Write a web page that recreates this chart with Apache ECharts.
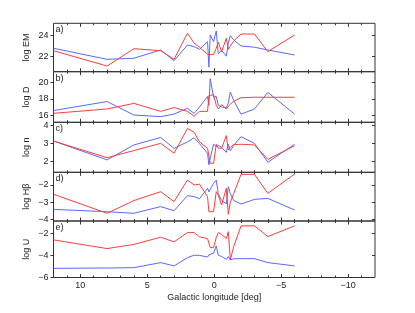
<!DOCTYPE html>
<html><head><meta charset="utf-8">
<script src="https://cdn.jsdelivr.net/npm/echarts@6/dist/echarts.min.js"></script>
<style>html,body{margin:0;padding:0;background:#fff}#c{width:415px;height:313px}</style>
</head><body><div id="c"></div>
<script>
// Galactic longitude [deg]
const longitude = [12, 8, 6, 4, 3, 2, 1.5, 1.1, 0.5, 0.4, 0.3, 0.05, -0.15, -0.3, -0.55, -0.9, -1.05, -1.2, -1.45, -2, -3, -4, -6];
// a) log EM
const emRed  = [22.57, 21.11, 22.76, 22.57, 21.75, 24.23, 23.28, 22.9, 22.23, 22.2, 22.2, 22.23, 22.8, 23.37, 22.48, 23.75, 22.7, 23.0, 23.5, 24.16, 24.16, 22.48, 24.07];
const emBlue = [22.8, 21.75, 21.85, 22.64, 21.62, 23.11, 22.95, 22.7, 23.43, 21.0, 24.07, 23.43, 24.45, 22.3, 22.6, 22.05, 23.3, 24.0, 23.6, 23.02, 22.9, 22.64, 22.16];
// b) log D
const dRed  = [16.21, 16.75, 17.44, 16.45, 16.93, 16.45, 15.86, 16.45, 16.45, 18.4, 18.5, 18.5, 17.2, 16.75, 17.3, 16.75, 17.1, 17.34, 17.7, 18.14, 18.2, 18.2, 18.2];
const dBlue = [16.55, 17.67, 16.0, 15.8, 16.12, 16.84, 16.2, 17.0, 18.3, 17.2, 20.5, 18.2, 18.3, 17.2, 17.0, 16.9, 17.5, 18.85, 17.8, 16.1, 16.75, 18.8, 16.1];
// c) log n
const nRed  = [3.15, 2.22, 2.62, 3.02, 2.47, 3.85, 3.63, 3.1, 2.74, 2.85, 1.91, 1.91, 2.97, 2.75, 2.75, 3.45, 2.65, 2.8, 2.95, 2.97, 2.93, 2.13, 2.89];
const nBlue = [3.15, 2.1, 2.93, 3.35, 2.74, 3.1, 3.33, 3.0, 2.47, 1.82, 2.2, 2.97, 2.85, 2.9, 2.8, 2.52, 2.97, 2.6, 2.9, 3.39, 3.02, 1.97, 2.97];
// d) log Hbeta
const hbRed  = [-2.54, -3.65, -2.91, -2.39, -2.97, -1.71, -2.0, -1.95, -2.68, -3.56, -3.56, -3.56, -2.39, -2.6, -3.17, -2.19, -3.71, -3.0, -2.5, -1.38, -1.38, -2.49, -1.36];
const hbBlue = [-3.42, -3.56, -3.65, -3.26, -3.5, -2.62, -2.68, -2.8, -2.19, -2.4, -2.5, -1.9, -1.71, -2.5, -2.9, -3.1, -2.1, -2.5, -2.9, -3.11, -2.84, -2.78, -3.46];
// e) log U
const uRed  = [-2.59, -3.38, -3.0, -2.35, -2.77, -1.93, -1.93, -2.32, -2.47, -2.38, -3.29, -3.29, -2.38, -1.93, -2.1, -2.47, -1.85, -4.41, -3.2, -1.32, -1.32, -2.29, -1.32];
const uBlue = [-5.17, -5.14, -5.11, -4.65, -4.95, -4.2, -3.98, -4.0, -4.14, -3.95, -3.9, -3.8, -3.14, -3.98, -4.1, -4.35, -4.1, -4.41, -4.3, -4.29, -4.29, -4.65, -4.95];

const panelLabels = ['a)', 'b)', 'c)', 'd)', 'e)'];
const yNames = ['log EM', 'log D', 'log n', 'log H\u03b2', 'log U'];
const yTickValues = [[22, 24], [16, 18, 20], [2, 3, 4], [-4, -3, -2], [-6, -4, -2]];
const xMajorTicks = [10, 5, 0, -5, -10];
const xMinorTicks = [11, 9, 8, 7, 6, 4, 3, 2, 1, -1, -2, -3, -4, -6, -7, -8, -9, -11];
const xTitle = 'Galactic longitude [deg]';

const redSeries = [emRed, dRed, nRed, hbRed, uRed];
const blueSeries = [emBlue, dBlue, nBlue, hbBlue, uBlue];

// layout
const panelTop = [23.3, 71.7, 122.3, 172.3, 221];
const panelBottom = [71.7, 122.3, 172.3, 221, 277.5];
const yRange = [[20.57, 25.18], [15.1, 21.36], [1.41, 4.19], [-4.1, -1.26], [-6, -0.88]];
const LEFT = 53.5, RIGHT = 375;
const RED = '#ff3c3c', BLUE = '#5a68ff', AX = '#333';
const FONT = 'Liberation Sans, Arial, sans-serif';
const minus = v => String(v).replace('-', '\u2212');

const grid = [], xAxis = [], yAxis = [], series = [], graphic = [];
for (let i = 0; i < 5; i++) {
  grid.push({left: LEFT, top: panelTop[i], width: RIGHT - LEFT, height: panelBottom[i] - panelTop[i],
    show: true, borderColor: AX, borderWidth: 1, backgroundColor: 'transparent'});
  const last = i === 4;
  const mk = (pos, vals, len, labels) => ({
    gridIndex: i, type: 'value', min: -12, max: 12, inverse: true, position: pos,
    axisLine: {show: false, onZero: false}, splitLine: {show: false},
    axisTick: {show: true, inside: true, length: len, customValues: vals, lineStyle: {color: AX, width: 1}},
    axisLabel: labels ? {show: true, customValues: xMajorTicks, formatter: minus, color: '#222', fontSize: 9, fontFamily: FONT, margin: 4}
                      : {show: false},
    name: labels ? xTitle : '', nameLocation: 'middle', nameGap: 16, nameMoveOverlap: false,
    nameTextStyle: {color: '#222', fontSize: 9, fontFamily: FONT}
  });
  xAxis.push(mk('bottom', xMajorTicks, 3.5, last));
  xAxis.push(mk('top', xMajorTicks, 3.5, false));
  xAxis.push(mk('bottom', xMinorTicks, 2, false));
  xAxis.push(mk('top', xMinorTicks, 2, false));
  yAxis.push({gridIndex: i, type: 'value', min: yRange[i][0], max: yRange[i][1], position: 'left',
    axisLine: {show: false, onZero: false}, splitLine: {show: false},
    axisTick: {show: true, inside: false, length: 3, customValues: yTickValues[i], lineStyle: {color: AX}},
    axisLabel: {show: true, customValues: yTickValues[i], formatter: minus, color: '#222', fontSize: 9, fontFamily: FONT, margin: 5},
    name: yNames[i], nameLocation: 'middle', nameRotate: 90, nameGap: 22, nameMoveOverlap: false,
    nameTextStyle: {color: '#222', fontSize: 9, fontFamily: FONT}});
  yAxis.push({gridIndex: i, type: 'value', min: yRange[i][0], max: yRange[i][1], position: 'right',
    axisLine: {show: false, onZero: false}, splitLine: {show: false},
    axisTick: {show: true, inside: true, length: 3, customValues: yTickValues[i], lineStyle: {color: AX}},
    axisLabel: {show: false}});
  const mkSeries = (vals, color, z) => ({
    type: 'line', xAxisIndex: 4 * i, yAxisIndex: 2 * i, data: longitude.map((l, k) => [l, vals[k]]),
    showSymbol: false, symbol: 'none', lineStyle: {color: color, width: 1}, z: z, animation: false, silent: true
  });
  series.push(mkSeries(blueSeries[i], BLUE, 2));
  series.push(mkSeries(redSeries[i], RED, 3));
  graphic.push({type: 'text', left: LEFT + 2, top: panelTop[i] + 2,
    style: {text: panelLabels[i], fill: '#222', font: '9px ' + FONT}});
}

const chart = echarts.init(document.getElementById('c'), null, {renderer: 'canvas'});
chart.setOption({animation: false, grid, xAxis, yAxis, series, graphic});
</script></body></html>
